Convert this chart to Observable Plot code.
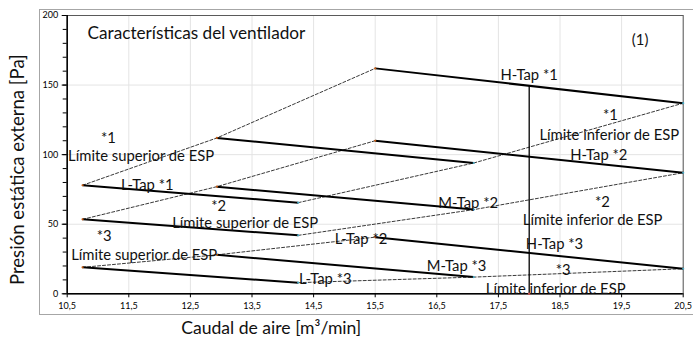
<!DOCTYPE html>
<html>
<head>
<meta charset="utf-8">
<script src="https://cdn.jsdelivr.net/npm/d3@7"></script>
<script src="https://cdn.jsdelivr.net/npm/@observablehq/plot@0.6"></script>
<style>
  html, body { margin: 0; padding: 0; background: #fff; }
  #wrap { position: relative; width: 693px; height: 340px; overflow: hidden; }
  #border { position: absolute; left: 39px; top: 9px; width: 680px; height: 304px;
            border: 1px solid #a6a6a6; pointer-events: none; }
</style>
</head>
<body>
<div id="wrap"><div id="border"></div></div>
<script>
// Fan taps and their airflow range [m³/min]
const taps = ["L-Tap", "M-Tap", "H-Tap"];
const flowMin = [10.75, 12.93, 15.5];
const flowMax = [14.25, 17.1, 20.5];

// External static pressure [Pa] at the ends of each tap curve, per setting *1, *2, *3
const curveIds = ["*1", "*2", "*3"];
const pressureAtMin = [
  [78, 112, 162],
  [53.5, 77, 110],
  [19, 28, 40.7]
];
const pressureAtMax = [
  [65.5, 94, 137],
  [42, 60.5, 87],
  [8, 12, 18]
];

// Rated airflow marker
const ratedFlow = 18;

// Axis ticks
const xTicks = [10.5, 11.5, 12.5, 13.5, 14.5, 15.5, 16.5, 17.5, 18.5, 19.5, 20.5];
const yTicks = [0, 50, 100, 150, 200];
const yMinorTicks = d3.range(0, 201, 10);

// Text annotations (data-space anchors)
const annotations = [
  {x: 18.0, y: 157, text: "H-Tap *1"},
  {x: 19.32, y: 128, text: "*1"},
  {x: 19.3, y: 114, text: "Límite inferior de ESP"},
  {x: 19.13, y: 99.5, text: "H-Tap *2"},
  {x: 11.17, y: 111.8, text: "*1"},
  {x: 11.7, y: 98.8, text: "Límite superior de ESP"},
  {x: 11.8, y: 78, text: "L-Tap *1"},
  {x: 12.96, y: 63, text: "*2"},
  {x: 13.39, y: 50.4, text: "Límite superior de ESP"},
  {x: 17.01, y: 65.2, text: "M-Tap *2"},
  {x: 19.19, y: 66, text: "*2"},
  {x: 19.03, y: 52.7, text: "Límite inferior de ESP"},
  {x: 15.27, y: 39, text: "L-Tap *2"},
  {x: 18.41, y: 35.5, text: "H-Tap *3"},
  {x: 11.1, y: 41.6, text: "*3"},
  {x: 11.75, y: 28, text: "Límite superior de ESP"},
  {x: 16.82, y: 19.6, text: "M-Tap *3"},
  {x: 14.69, y: 10.5, text: "L-Tap *3"},
  {x: 18.55, y: 17.2, text: "*3"},
  {x: 18.43, y: 3.3, text: "Límite inferior de ESP"}
];

// Build the tap segments and the ESP limit polylines
const segments = [];
const upperLimit = [];
const lowerLimit = [];
curveIds.forEach((c, ci) => {
  taps.forEach((t, ti) => {
    segments.push({curve: c, tap: t,
      x1: flowMin[ti], y1: pressureAtMin[ci][ti],
      x2: flowMax[ti], y2: pressureAtMax[ci][ti]});
    upperLimit.push({curve: c, x: flowMin[ti], y: pressureAtMin[ci][ti]});
    lowerLimit.push({curve: c, x: flowMax[ti], y: pressureAtMax[ci][ti]});
  });
});

// Pressure of H-Tap *1 at the rated flow
const hi = taps.indexOf("H-Tap");
const ratedTop = pressureAtMin[0][hi] +
  (pressureAtMax[0][hi] - pressureAtMin[0][hi]) * (ratedFlow - flowMin[hi]) / (flowMax[hi] - flowMin[hi]);

const fmt = d => d.toFixed(1).replace(".", ",");
const font = "Lato, 'Open Sans', sans-serif";

const chart = Plot.plot({
  width: 693,
  height: 340,
  marginLeft: 66.7,
  marginRight: 10.3,
  marginTop: 15,
  marginBottom: 46.7,
  style: {fontFamily: font, background: "transparent", overflow: "visible"},
  x: {domain: [10.5, 20.5]},
  y: {domain: [0, 200]},
  marks: [
    Plot.gridX(xTicks, {stroke: "#e4e4e4", strokeOpacity: 1}),
    Plot.gridY(yTicks, {stroke: "#e4e4e4", strokeOpacity: 1}),
    Plot.frame({stroke: "#5a5a5a", strokeWidth: 1}),
    Plot.axisY(yMinorTicks, {tickSize: 4, text: null, stroke: "#000"}),
    Plot.axisY(yTicks, {tickSize: 5, tickPadding: 4, fontSize: 9, label: null, stroke: "#000", fill: "#000"}),
    Plot.axisX(xTicks, {tickSize: 4, tickPadding: 5, fontSize: 9, tickFormat: fmt, label: null, stroke: "#000", fill: "#000"}),
    Plot.ruleX([10.5], {stroke: "#000", strokeWidth: 1.5}),
    Plot.ruleY([0], {stroke: "#000", strokeWidth: 1.5}),
    // ESP limits
    Plot.line(upperLimit, {x: "x", y: "y", z: "curve", stroke: "#222", strokeWidth: 0.9, strokeDasharray: "3,2"}),
    Plot.line(lowerLimit, {x: "x", y: "y", z: "curve", stroke: "#222", strokeWidth: 0.9, strokeDasharray: "3,2"}),
    // Tap characteristics
    Plot.link(segments, {x1: "x1", y1: "y1", x2: "x2", y2: "y2", stroke: "#000", strokeWidth: 2}),
    // Rated airflow
    Plot.ruleX([ratedFlow], {y1: 0, y2: ratedTop, stroke: "#000", strokeWidth: 1.3}),
    Plot.dot([ratedFlow], {x: d => d, y: 0, r: 1.3, fill: "#c0504d", stroke: null}),
    Plot.dot(upperLimit, {x: "x", y: "y", r: 1.1, fill: "#c55a11", stroke: null}),
    Plot.dot(lowerLimit, {x: "x", y: "y", r: 1.1, fill: "#4bacc6", stroke: null}),
    // Annotations
    Plot.text(annotations, {x: "x", y: "y", text: "text", fontSize: 14.8, fill: "#111"}),
    Plot.text(["Características del ventilador"], {x: 10.83, y: 187, textAnchor: "start", fontSize: 17.2, fill: "#111"}),
    Plot.text(["(1)"], {x: 19.8, y: 182, fontSize: 14.8, fill: "#111"}),
    // Axis titles
    Plot.text(["Caudal de aire [m³/min]"], {frameAnchor: "bottom", lineAnchor: "middle", dx: -104, dy: 35, fontSize: 17.6, fill: "#111"}),
    Plot.text(["Presión estática externa [Pa]"], {frameAnchor: "left", textAnchor: "middle", lineAnchor: "middle", dx: -49, dy: 15, rotate: -90, fontSize: 18.6, fill: "#111"})
  ]
});

document.getElementById("wrap").prepend(chart);
</script>
</body>
</html>
